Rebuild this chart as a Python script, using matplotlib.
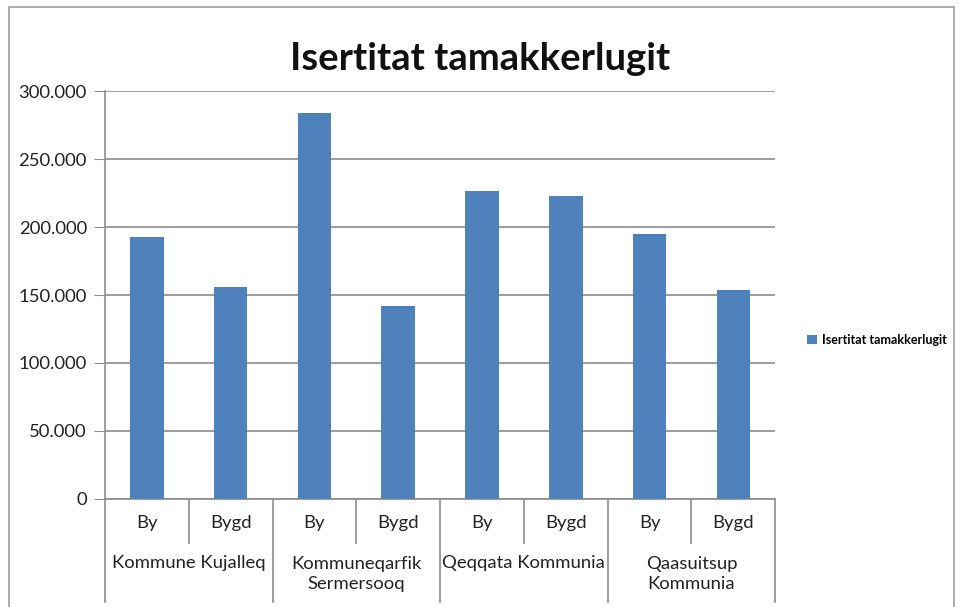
import matplotlib.pyplot as plt
import matplotlib.transforms as mtransforms
from matplotlib.lines import Line2D
from matplotlib.patches import Rectangle

plt.rcParams['font.family'] = ['Lato', 'DejaVu Sans']

# data
groups = ['Kommune Kujalleq', 'Kommuneqarfik\nSermersooq', 'Qeqqata Kommunia', 'Qaasuitsup\nKommunia']
subcats = ['By', 'Bygd']
values = [193000, 156000, 283500, 142000, 226500, 222500, 195000, 154000]
yticks = [0, 50000, 100000, 150000, 200000, 250000, 300000]
ytick_labels = ['0', '50.000', '100.000', '150.000', '200.000', '250.000', '300.000']
series_name = 'Isertitat tamakkerlugit'

blue = '#4F81BD'
gray = '#8C8C8C'

fig = plt.figure(figsize=(9.63, 6.07), dpi=100)
fig.patches.append(Rectangle((0.009, -0.1), 0.982, 1.088, transform=fig.transFigure,
                             fill=False, edgecolor='#A0A0A0', linewidth=1.2))

ax = fig.add_axes([0.109, 0.178, 0.696, 0.672])
x = list(range(len(values)))
ax.bar(x, values, width=0.4, color=blue, zorder=3, label=series_name)

ax.set_xlim(-0.5, len(values) - 0.5)
ax.set_ylim(0, 300000)
ax.set_yticks(yticks)
ax.set_yticklabels(ytick_labels, fontsize=13.3, color='#222222')
ax.tick_params(axis='y', length=8, color=gray, pad=5)
ax.set_xticks([])
ax.grid(axis='y', color=gray, linewidth=1.2, zorder=0)
for s in ['top', 'right']:
    ax.spines[s].set_visible(False)
ax.spines['left'].set_color(gray)
ax.spines['bottom'].set_color(gray)
ax.spines['left'].set_linewidth(1.2)
ax.spines['bottom'].set_linewidth(1.2)

# multi-level category axis
trans = mtransforms.blended_transform_factory(ax.transData, ax.transAxes)
for i in range(len(values) + 1):
    xb = i - 0.5
    y_end = -0.252 if i % 2 == 0 else -0.108
    ax.add_line(Line2D([xb, xb], [0, y_end], transform=trans, color=gray,
                       linewidth=1.2, clip_on=False))
for i in range(len(values)):
    ax.text(i, -0.059, subcats[i % 2], transform=trans, ha='center', va='center',
            fontsize=13.3, color='#222222')
for g, name in enumerate(groups):
    yy = -0.184 if '\n' in name else -0.157
    ax.text(2 * g + 0.5, yy, name, transform=trans, ha='center', va='center',
            fontsize=13.3, color='#222222', linespacing=1.25)

fig.text(0.499, 0.903, series_name, ha='center', va='center', fontsize=27.5,
         fontweight='bold', color='#111111')

ax.legend(loc='center left', bbox_to_anchor=(1.03, 0.39), frameon=False,
          prop={'size': 9, 'weight': 'bold'}, handlelength=0.8, handleheight=0.8,
          handletextpad=0.4)

fig.savefig('out.png', dpi=100)
